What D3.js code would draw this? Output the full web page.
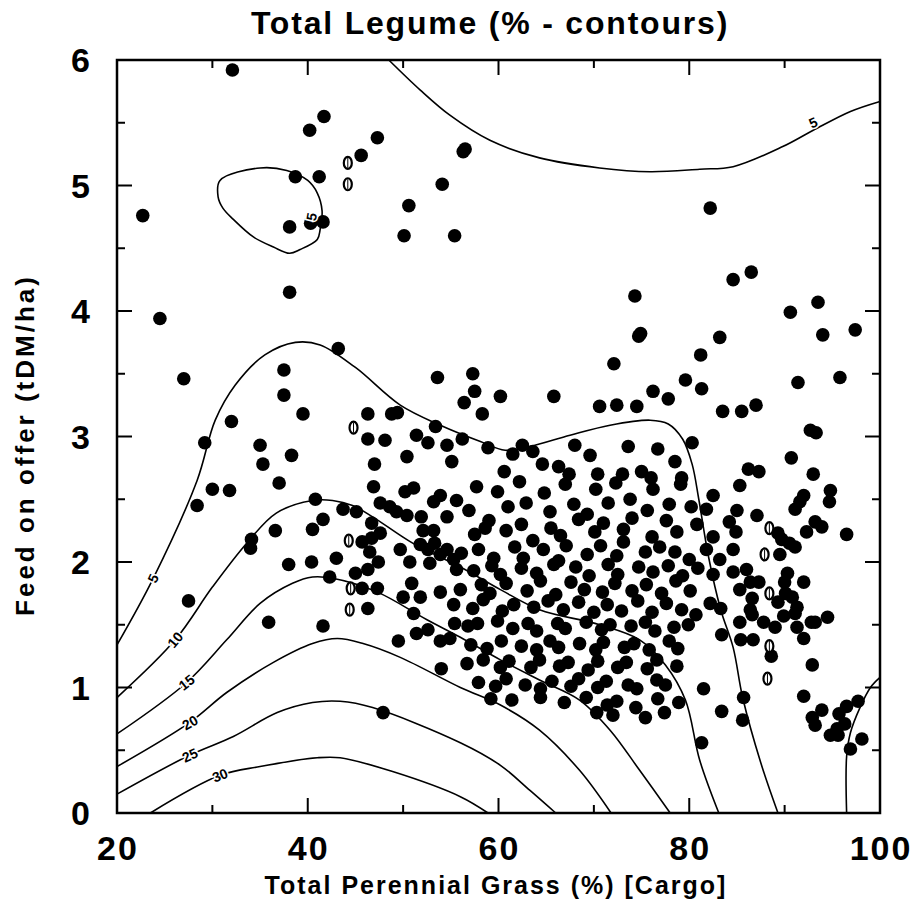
<!DOCTYPE html>
<meta charset="utf-8">
<style>
body { margin: 0; background: #fff; }
svg { font-family: "Liberation Sans", Arial, sans-serif; font-weight: bold; }
.frame { fill: none; stroke: #000; stroke-width: 2.5; }
.tick { stroke: #000; stroke-width: 2; }
.contour { fill: none; stroke: #000; stroke-width: 1.6; }
.pt { fill: #000; }
.clab { font-size: 14px; fill: #000; stroke: #fff; stroke-width: 3; paint-order: stroke; }
</style>
<svg width="917" height="903"></svg>
<script src="https://d3js.org/d3.v7.min.js"></script>
<script>

var svg = d3.select("svg");

var xTicks = [20, 40, 60, 80, 100];
var yTicks = [0, 1, 2, 3, 4, 5, 6];

// contours, [grass %, feed t/ha]
var contour30 = [[23.5,0],[30.8,0.30],[35.0,0.37],[41.0,0.44],[43.4,0.44],[48.9,0.33],[56.0,0.13],[58.9,0]];
var contour25 = [[20,0.15],[27.6,0.46],[32.2,0.61],[36.8,0.80],[40.5,0.88],[43.4,0.89],[46.8,0.84],[56.0,0.56],[60.2,0.38],[63.3,0.18],[66.0,0]];
var contour20 = [[20,0.37],[27.6,0.72],[31.5,0.96],[36.4,1.20],[40.5,1.35],[43.1,1.39],[45.8,1.35],[49.7,1.24],[56.0,1.0],[60.2,0.86],[64.3,0.66],[68.5,0.34],[71.8,0]];
var contour15 = [[20,0.63],[27.3,1.04],[31.5,1.38],[35.0,1.67],[38.4,1.83],[40.5,1.88],[42.6,1.87],[47.3,1.76],[52.5,1.54],[56.0,1.40],[60.2,1.22],[64.3,1.06],[68.5,0.90],[71.7,0.66],[74.8,0.34],[78.0,0]];
var contour10 = [[20,0.92],[26.1,1.38],[30.0,1.80],[33.6,2.15],[36.7,2.39],[40.5,2.49],[42.6,2.49],[44.7,2.45],[46.8,2.36],[51.0,2.15],[56.0,1.96],[60.2,1.78],[64.3,1.62],[70.6,1.50],[74.8,1.38],[77.5,1.18],[79.6,0.90],[81.1,0.42],[83.1,0]];
var contour5 = [[20,1.34],[23.8,1.87],[28.4,2.65],[30.3,3.13],[32.4,3.41],[35.5,3.65],[38.7,3.75],[41.3,3.73],[45.0,3.55],[49.7,3.25],[53.9,3.09],[58.1,2.96],[60.7,2.89],[63.3,2.92],[67.5,3.01],[71.7,3.09],[75.9,3.13],[77.8,3.10],[79.3,2.98],[80.3,2.78],[81.0,2.50],[82.0,2.05],[83.3,1.62],[84.6,1.32],[85.6,0.92],[87.5,0.40],[89.3,0]];
var contour5top = [[48.5,6.0],[51.8,5.76],[54.9,5.56],[59.1,5.36],[64.3,5.22],[70.6,5.14],[75.9,5.11],[81.1,5.13],[84.6,5.15],[89.8,5.31],[93.0,5.44],[96.9,5.59],[100,5.67]];
var contour5loop = [[30.8,5.04],[35.0,5.14],[37.8,5.12],[40.0,5.04],[41.0,4.94],[41.5,4.80],[41.3,4.65],[41.0,4.57],[39.2,4.49],[38.1,4.46],[36.4,4.51],[34.3,4.59],[32.2,4.73],[31.1,4.82],[30.6,4.91]];
var contour5right = [[96.5,0],[96.5,0.45],[96.9,0.64],[97.9,0.84],[99.0,1.0],[100,1.08]];

var contourLabels = ["5", "10", "15", "20", "25", "30", "5", "5"];
var labelAt = [[23.8,1.87],[26.1,1.38],[27.3,1.04],[27.65,0.72],[27.65,0.46],[30.8,0.30],[93.0,5.5],[40.4,4.75]];
var labelAngle = [-65, -50, -38, -30, -25, -22, -25, -80];

// observations
var points = [
  // upper left and top
  [32.1,5.92],[41.7,5.55],[40.2,5.44],[38.7,5.07],[41.2,5.07],[22.7,4.76],[38.1,4.67],[40.3,4.70],
  [41.6,4.71],[38.1,4.15],[24.5,3.94],[45.6,5.24],[47.3,5.38],[50.6,4.84],[50.1,4.60],[54.1,5.01],
  [56.3,5.27],[56.5,5.29],[55.4,4.60],
  [82.2,4.82],[84.6,4.25],[86.5,4.31],[90.6,3.99],[93.5,4.07],[94.0,3.81],[97.4,3.85],[83.2,3.79],
  // band above the cluster
  [27.0,3.46],[37.5,3.53],[37.5,3.33],[39.5,3.18],[43.2,3.70],[32.0,3.12],[29.2,2.95],[35.0,2.93],
  [35.3,2.78],[38.3,2.85],[46.3,3.18],[46.3,2.98],[47.0,2.78],[48.1,2.97],[48.8,3.18],[49.4,3.19],
  [50.4,2.84],[51.4,3.01],[52.6,2.95],[53.4,3.08],[53.6,3.47],[54.6,2.93],[55.1,2.80],[56.2,2.98],
  [56.4,3.27],[57.3,3.50],[57.5,3.36],[58.3,3.18],[58.9,2.91],[60.2,3.32],[60.6,2.72],[61.5,2.86],
  [62.5,2.93],[63.6,2.88],[64.6,2.78],[65.8,3.32],[66.3,2.76],[67.4,2.70],[68.0,2.93],[69.6,2.85],
  [70.6,3.24],[72.1,3.58],[72.4,3.25],[73.6,2.92],[75.0,2.72],[76.2,3.36],[76.7,2.90],[77.8,3.30],
  [78.5,2.80],[79.6,3.45],[80.3,2.95],[81.2,3.65],[81.3,3.38],[79.2,2.67],[76.0,2.67],[73.0,2.70],
  [70.4,2.70],[74.5,3.24],[74.3,4.12],[74.7,3.80],[74.9,3.82],
  [83.5,3.20],[85.5,3.20],[87.0,3.25],[86.2,2.74],[87.3,2.72],[90.7,2.83],[91.4,3.43],[92.7,3.05],
  [93.3,3.03],[95.8,3.47],[93.0,2.70],
  // left part of the cluster
  [28.4,2.45],[30.0,2.58],[31.8,2.57],[37.0,2.63],[40.8,2.50],[27.5,1.69],[34.1,2.18],[34.0,2.11],
  [36.6,2.25],[38.0,1.98],[40.4,2.00],[40.5,2.26],[41.6,2.34],[43.0,2.03],[42.3,1.88],[43.7,2.42],
  [45.1,2.40],[46.7,2.31],[47.6,2.23],[35.9,1.52],[41.6,1.49],[47.9,0.80],[45.0,1.91],[46.3,1.94],
  [47.4,2.00],[45.7,1.79],[47.3,1.79],[46.3,1.63],[45.7,2.16],[46.7,2.19],[46.5,2.08],[49.5,1.37],
  [51.1,1.59],[51.4,1.43],[52.6,1.46],[53.9,1.37],[54.0,1.15],[54.9,1.39],[50.0,1.72],[50.9,1.83],
  [51.8,1.72],[53.9,1.76],[55.3,1.66],[55.4,1.51],[47.6,2.47],[48.6,2.44],[49.3,2.40],[50.4,2.37],
  [50.2,2.56],[51.1,2.59],[53.2,2.48],[53.9,2.53],[51.9,2.36],[52.1,2.25],[53.2,2.25],[54.6,2.36],
  [55.6,2.49],[49.7,2.10],[50.7,2.00],[51.8,2.14],[52.6,2.10],[52.8,1.99],[53.3,2.15],[53.9,2.06],
  [54.6,2.10],[55.3,2.02],[55.6,1.94],[46.9,2.60],
  // middle of the cluster
  [56.9,2.41],[57.7,2.60],[59.0,2.33],[59.9,2.56],[61.0,2.44],[62.2,2.64],[62.9,2.47],[64.8,2.55],
  [65.4,2.40],[67.0,2.62],[67.9,2.46],[69.3,2.38],[70.2,2.58],[71.5,2.47],[72.3,2.63],[73.8,2.50],
  [75.6,2.41],[76.2,2.58],[77.9,2.46],[79.1,2.62],[80.2,2.44],
  [57.5,2.22],[58.6,2.27],[60.8,2.25],[62.4,2.30],[63.6,2.17],[65.5,2.27],[66.5,2.21],[68.4,2.34],
  [70.1,2.24],[71.0,2.31],[73.1,2.26],[74.0,2.35],[76.1,2.20],[77.6,2.33],[78.7,2.24],[80.8,2.30],
  [56.1,2.07],[57.9,2.10],[59.5,2.03],[61.7,2.12],[62.6,2.03],[64.7,2.10],[66.3,2.01],[67.1,2.13],
  [69.3,2.06],[70.7,2.13],[72.4,2.05],[73.1,2.16],[75.4,2.08],[76.9,2.12],[78.5,2.08],[80.0,2.02],
  [57.4,1.93],[59.3,1.97],[60.2,1.90],[62.4,1.95],[64.0,1.91],[65.8,1.98],[68.1,1.96],[69.5,1.89],
  [71.5,1.98],[72.5,1.90],[74.7,1.96],[76.2,1.92],[77.8,1.97],[79.3,1.89],[80.9,1.95],
  [56.0,1.78],[58.2,1.82],[59.1,1.75],[60.8,1.83],[63.0,1.77],[64.4,1.85],[66.0,1.74],[67.6,1.84],
  [69.0,1.78],[70.9,1.76],[72.2,1.83],[74.0,1.77],[75.5,1.82],[77.1,1.75],[78.6,1.85],[80.1,1.77],
  [57.3,1.63],[58.4,1.70],[60.4,1.61],[61.6,1.66],[63.7,1.64],[65.2,1.69],[66.8,1.62],[68.4,1.68],
  [70.0,1.60],[71.4,1.66],[72.9,1.61],[74.6,1.69],[76.1,1.60],[77.6,1.67],[79.2,1.62],[80.7,1.58],
  [56.8,1.49],[57.8,1.51],[59.9,1.53],[61.5,1.47],[63.1,1.51],[64.0,1.45],[66.2,1.51],[67.0,1.47],
  [69.2,1.52],[70.8,1.46],[71.7,1.50],[73.9,1.49],[75.4,1.52],[76.4,1.45],[78.4,1.48],[79.9,1.50],
  [57.1,1.34],[58.8,1.31],[60.3,1.37],[62.4,1.33],[64.0,1.30],[65.4,1.37],[66.3,1.32],[68.5,1.35],
  [70.2,1.30],[71.0,1.36],[73.2,1.32],[74.2,1.35],[75.8,1.30],[77.9,1.37],[78.8,1.31],
  [56.7,1.19],[58.4,1.22],[60.2,1.16],[61.1,1.21],[63.4,1.16],[64.3,1.22],[66.4,1.17],[67.3,1.20],
  [69.4,1.14],[70.4,1.21],[72.5,1.16],[73.4,1.20],[75.6,1.15],[76.6,1.22],[78.7,1.17],
  [57.9,1.04],[59.7,1.01],[60.8,1.07],[62.8,1.02],[64.4,0.99],[65.6,1.05],[67.6,1.01],[68.4,1.07],
  [70.4,1.00],[71.3,1.05],[73.6,1.02],[74.5,0.99],[76.6,1.06],[77.5,1.02],
  [59.2,0.91],[61.4,0.90],[64.4,0.92],[66.9,0.88],[69.2,0.92],[71.4,0.86],[72.4,0.89],[74.4,0.84],
  [76.7,0.91],[78.9,0.88],[72.0,0.78],[75.4,0.76],[77.4,0.80],[70.3,0.80],
  // right part of the cluster
  [85.3,2.61],[82.5,2.53],[81.8,2.42],[85.0,2.41],[84.2,2.32],[87.1,2.37],[84.9,2.24],[82.5,2.20],
  [81.8,2.10],[84.6,2.10],[83.2,2.02],[82.5,1.90],[84.6,1.92],[86.0,1.94],[85.3,1.78],[86.4,1.84],
  [87.3,1.84],[82.2,1.67],[83.3,1.63],[86.6,1.71],[86.4,1.62],[86.6,1.58],[85.3,1.52],[83.4,1.42],
  [85.4,1.38],[86.7,1.38],[87.8,1.52],[89.0,1.48],[88.6,1.25],[89.5,2.06],[89.3,2.23],[89.7,2.18],
  [90.5,2.15],[91.1,2.12],[90.3,1.91],[90.0,1.84],[92.0,1.84],[90.1,1.75],[90.8,1.72],[89.3,1.68],
  [91.3,1.64],[91.1,1.59],[89.9,1.57],[91.3,1.48],[92.8,1.52],[93.2,1.52],[94.5,1.56],[92.0,1.39],
  [92.9,1.18],[92.0,0.93],[85.7,0.92],[85.6,0.74],[83.4,0.81],[81.5,0.99],[81.3,0.56],[92.9,0.76],
  [93.9,0.82],[93.2,0.70],[95.7,0.79],[96.5,0.85],[97.7,0.89],[96.3,0.71],[95.5,0.67],[94.8,0.62],
  [95.6,0.62],[98.1,0.59],[96.9,0.51],[96.5,2.22],[92.0,2.53],[91.6,2.48],[91.1,2.42],[94.7,2.48],
  [94.8,2.57],[93.2,2.32],[93.9,2.28],[92.3,2.24]
];
var zeros = [[44.2,5.18],[44.2,5.01],[44.5,1.79],[44.4,1.62],[44.3,2.17],[44.8,3.07],
  [88.4,2.27],[87.9,2.06],[88.4,1.75],[88.4,1.33],[88.2,1.07]];

var x = d3.scaleLinear().domain([20, 100]).range([117, 880]);
var y = d3.scaleLinear().domain([0, 6]).range([813, 60]);

var line = d3.line()
    .x(function(d){ return x(d[0]); })
    .y(function(d){ return y(d[1]); })
    .curve(d3.curveCatmullRom.alpha(0.5));

var g = svg.append("g");

// contour lines
[contour30, contour25, contour20, contour15, contour10, contour5, contour5top, contour5right].forEach(function(c){
  g.append("path").attr("class", "contour").attr("d", line(c));
});
g.append("path").attr("class", "contour")
  .attr("d", d3.line().x(function(d){ return x(d[0]); }).y(function(d){ return y(d[1]); })
  .curve(d3.curveCatmullRomClosed.alpha(0.5))(contour5loop));

// points
g.selectAll(".pt").data(points).enter().append("circle")
  .attr("class", "pt")
  .attr("cx", function(d){ return x(d[0]); })
  .attr("cy", function(d){ return y(d[1]); })
  .attr("r", 6.8);

// zero-valued sites
var zg = g.selectAll(".zero").data(zeros).enter().append("g")
  .attr("transform", function(d){ return "translate(" + x(d[0]) + "," + y(d[1]) + ")"; });
zg.append("ellipse").attr("rx", 4).attr("ry", 6).attr("fill", "#fff").attr("stroke", "#000").attr("stroke-width", 2.2);
zg.append("line").attr("y1", -5).attr("y2", 5).attr("stroke", "#000").attr("stroke-width", 1);

// contour labels
g.selectAll(".clab").data(contourLabels).enter().append("text")
  .attr("class", "clab")
  .attr("text-anchor", "middle")
  .attr("dy", "0.35em")
  .attr("transform", function(d, i){ return "translate(" + x(labelAt[i][0]) + "," + y(labelAt[i][1]) + ") rotate(" + labelAngle[i] + ")"; })
  .text(function(d){ return d; });

// frame and ticks
svg.append("rect").attr("class", "frame")
  .attr("x", x(20)).attr("y", y(6)).attr("width", x(100) - x(20)).attr("height", y(0) - y(6));

d3.range(30, 100, 10).forEach(function(v){
  var len = (v % 20 === 0) ? 15 : 8;
  svg.append("line").attr("class", "tick").attr("x1", x(v)).attr("x2", x(v)).attr("y1", y(0)).attr("y2", y(0) - len);
  svg.append("line").attr("class", "tick").attr("x1", x(v)).attr("x2", x(v)).attr("y1", y(6)).attr("y2", y(6) + len);
});
d3.range(0.5, 6, 0.5).forEach(function(v){
  var len = (v % 1 === 0) ? 15 : 8;
  svg.append("line").attr("class", "tick").attr("y1", y(v)).attr("y2", y(v)).attr("x1", x(20)).attr("x2", x(20) + len);
  svg.append("line").attr("class", "tick").attr("y1", y(v)).attr("y2", y(v)).attr("x1", x(100)).attr("x2", x(100) - len);
});

svg.selectAll(".xl").data(xTicks).enter().append("text")
  .attr("x", function(d){ return x(d) + 1; }).attr("y", 860)
  .attr("text-anchor", "middle").attr("font-size", 34).attr("letter-spacing", 2)
  .text(function(d){ return d; });

svg.selectAll(".yl").data(yTicks).enter().append("text")
  .attr("x", 90).attr("y", function(d){ return y(d); }).attr("dy", "0.36em")
  .attr("text-anchor", "end").attr("font-size", 34)
  .text(function(d){ return d; });

svg.append("text").attr("x", 490).attr("y", 34).attr("text-anchor", "middle")
  .attr("font-size", 32).attr("letter-spacing", 1.8).text("Total Legume (% - contours)");

svg.append("text").attr("x", 496).attr("y", 894).attr("text-anchor", "middle")
  .attr("font-size", 25).attr("letter-spacing", 2).text("Total Perennial Grass (%) [Cargo]");

svg.append("text").attr("transform", "translate(34,445) rotate(-90)").attr("text-anchor", "middle")
  .attr("font-size", 26).attr("letter-spacing", 3).text("Feed on offer (tDM/ha)");

</script>
